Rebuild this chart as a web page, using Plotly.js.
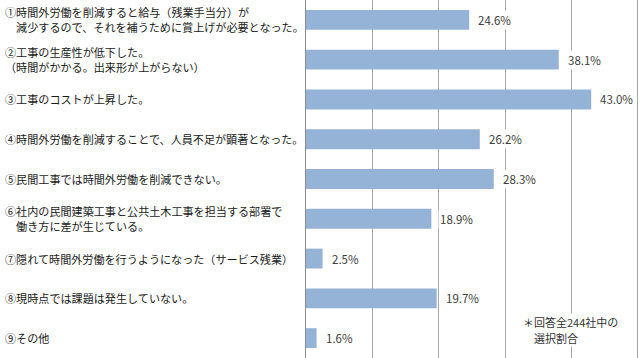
<!DOCTYPE html>
<html>
<head>
<meta charset="utf-8">
<script src="https://cdn.plot.ly/plotly-3.0.1.min.js"></script>
<style>html,body{margin:0;padding:0;background:#fff;}#chart{width:640px;height:358px;}</style>
</head>
<body>
<div id="chart"></div>
<script>
const categories = ["c1","c2","c3","c4","c5","c6","c7","c8","c9"];
const labels = [
  ["①時間外労働を削減すると給与（残業手当分）が", "　減少するので、それを補うために賞上げが必要となった。"],
  ["②工事の生産性が低下した。", "（時間がかかる。出来形が上がらない）"],
  ["③工事のコストが上昇した。"],
  ["④時間外労働を削減することで、人員不足が顕著となった。"],
  ["⑤民間工事では時間外労働を削減できない。"],
  ["⑥社内の民間建築工事と公共土木工事を担当する部署で", "　働き方に差が生じている。"],
  ["⑦隠れて時間外労働を行うようになった（サービス残業）"],
  ["⑧現時点では課題は発生していない。"],
  ["⑨その他"]
];
const values = [24.6, 38.1, 43.0, 26.2, 28.3, 18.9, 2.5, 19.7, 1.6];
const valueLabels = ["24.6%","38.1%","43.0%","26.2%","28.3%","18.9%","2.5%","19.7%","1.6%"];
const noteLines = ["＊回答全244社中の", "　選択割合"];

const font = "'Noto Sans CJK JP', 'Noto Sans', sans-serif";

const trace = {
  type: "bar",
  orientation: "h",
  y: categories,
  x: values,
  marker: {color: "#95B3D7", line: {width: 0}},
  hoverinfo: "none"
};

const annotations = [];
categories.forEach((c, i) => {
  const lines = labels[i];
  lines.forEach((ln, k) => {
    const shift = lines.length === 1 ? 0 : (k === 0 ? 7.5 : -7.5);
    annotations.push({
      xref: "paper", yref: "y", x: 0, y: c, xanchor: "left", yanchor: "middle",
      xshift: -303, yshift: shift, align: "left", showarrow: false, text: ln,
      font: {family: font, size: 11.1, color: "#1a1a1a"}
    });
  });
  annotations.push({
    xref: "x", yref: "y", x: values[i], y: c, xanchor: "left", yanchor: "middle",
    xshift: 7, showarrow: false, text: valueLabels[i], bgcolor: "#ffffff", borderpad: 1,
    font: {family: font, size: 11.5, color: "#404040"}
  });
});
noteLines.forEach((ln, k) => {
  annotations.push({
    xref: "paper", yref: "paper", x: 0.65, y: 0.078, xanchor: "left", yanchor: "middle",
    yshift: k === 0 ? 8 : -8, align: "left", showarrow: false, text: ln, bgcolor: "#ffffff",
    borderpad: 0, font: {family: font, size: 11, color: "#333333"}
  });
});

const layout = {
  width: 640, height: 358,
  margin: {l: 306, r: 1, t: 0, b: 0, pad: 0},
  paper_bgcolor: "#ffffff", plot_bgcolor: "#ffffff",
  showlegend: false,
  bargap: 0.5,
  xaxis: {range: [0, 50.2], dtick: 10, tick0: 0, showticklabels: false, ticks: "",
          showgrid: true, gridcolor: "#A6A6A6", gridwidth: 1, zeroline: false, fixedrange: true},
  yaxis: {autorange: "reversed", showticklabels: false, ticks: "", showgrid: false,
          showline: true, linecolor: "#8C8C8C", linewidth: 1, fixedrange: true},
  annotations: annotations
};

Plotly.newPlot("chart", [trace], layout, {staticPlot: true, displayModeBar: false});
</script>
</body>
</html>
